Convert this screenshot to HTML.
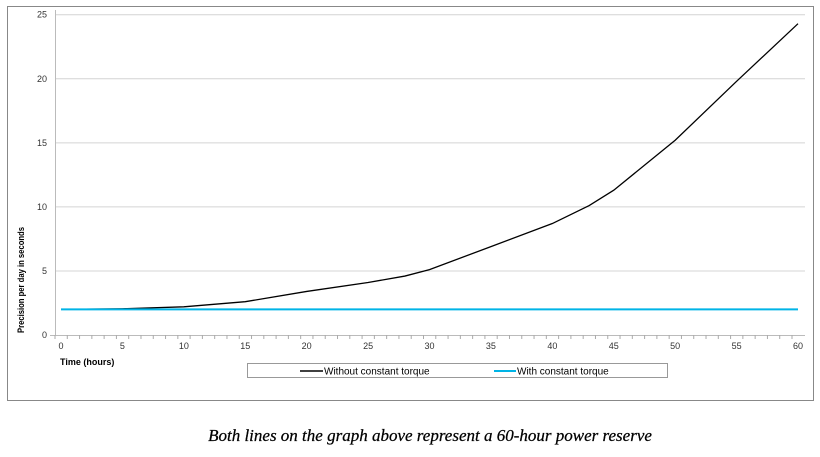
<!DOCTYPE html>
<html><head><meta charset="utf-8"><style>
body{margin:0;background:#fff;width:820px;height:452px;overflow:hidden}
svg text{font-family:"Liberation Sans",sans-serif}
</style></head><body>
<svg width="820" height="452">
<rect x="7.5" y="6.5" width="806" height="394" fill="#fff" stroke="#888"/>
<g id="grid"></g><g id="axes"></g><g id="series"></g>
<text transform="translate(24,280) rotate(-90)" text-anchor="middle" font-size="9" font-weight="bold" textLength="106" lengthAdjust="spacingAndGlyphs">Precision per day in seconds</text>
<text x="60" y="365" font-size="9" font-weight="bold">Time (hours)</text>
<g>
<rect x="247.5" y="363.5" width="420" height="14" fill="#fff" stroke="#999"/>
<g><line x1="300" y1="371" x2="323" y2="371" stroke="#000" stroke-width="1.5"/><text x="324" y="374.5" font-size="10">Without constant torque</text></g>
<g><line x1="494" y1="371" x2="516" y2="371" stroke="#00b4e6" stroke-width="2"/><text x="517" y="374.5" font-size="10">With constant torque</text></g>
</g>
<text x="430" y="441" text-anchor="middle" font-style="italic" font-size="17" fill="#000" stroke="#000" stroke-width="0.25" style="font-family:'Liberation Serif',serif">Both lines on the graph above represent a 60-hour power reserve</text>
</svg>
<script>
const hours=[0,5,10,15,20,25,28,30,35,40,43,45,50,55,60];
const withoutTorque=[2,2.05,2.2,2.6,3.4,4.1,4.6,5.1,6.9,8.7,10.1,11.3,15.2,19.8,24.3];
const withTorque=[2,2,2,2,2,2,2,2,2,2,2,2,2,2,2];
const yTicks=[0,5,10,15,20,25];
const xTicks=[0,5,10,15,20,25,30,35,40,45,50,55,60];
const NS="http://www.w3.org/2000/svg";
const X=v=>61+v*(798-61)/60, Y=v=>335-v*(335-14.7)/25;
function mk(t,a,p){const e=document.createElementNS(NS,t);for(const k in a)e.setAttribute(k,a[k]);p.appendChild(e);return e;}
const grid=document.getElementById('grid'),axes=document.getElementById('axes'),ser=document.getElementById('series');
yTicks.forEach(v=>{
 if(v>0){const g=mk('line',{x1:55,x2:805,y1:Y(v),y2:Y(v),stroke:'#d4d4d4','stroke-width':1},grid);
 
 }
 const t=mk('text',{x:47,y:Y(v)+3,'text-anchor':'end','font-size':9,fill:'#333'},axes);t.textContent=v;
 
 
});
mk('line',{x1:55.5,x2:55.5,y1:10,y2:336,stroke:'#bbb'},axes);
mk('line',{x1:50,x2:805,y1:335.5,y2:335.5,stroke:'#bbb'},axes);
for(let h=0;h<=60;h++)mk('line',{x1:X(h)-6,x2:X(h)-6,y1:335,y2:339,stroke:'#aaa'},axes);
xTicks.forEach(v=>{const t=mk('text',{x:X(v),y:349,'text-anchor':'middle','font-size':9,fill:'#333'},axes);t.textContent=v;
 
 });
const p1=mk('polyline',{points:hours.map((h,i)=>X(h)+','+Y(withoutTorque[i])).join(' '),fill:'none',stroke:'#000','stroke-width':1.3},ser);


const p2=mk('polyline',{points:hours.map((h,i)=>X(h)+','+Y(withTorque[i])).join(' '),fill:'none',stroke:'#00b4e6','stroke-width':2},ser);


</script>
</body></html>
